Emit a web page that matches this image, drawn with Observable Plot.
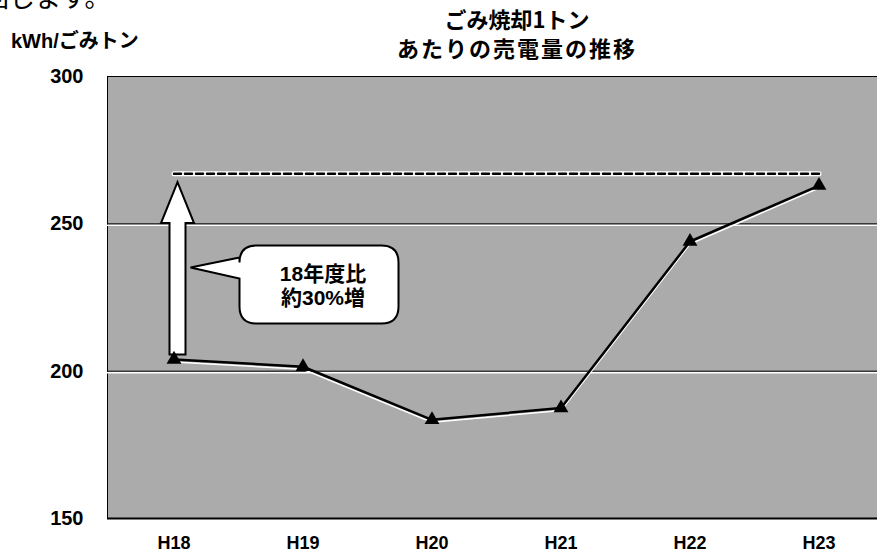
<!DOCTYPE html>
<html><head><meta charset="utf-8">
<script src="https://cdn.jsdelivr.net/npm/d3@7"></script>
<script src="https://cdn.jsdelivr.net/npm/@observablehq/plot@0.6"></script>
<style>
html,body{margin:0;padding:0;background:#fff;overflow:hidden;}
#wrap{position:relative;width:877px;height:554px;}
.t{position:absolute;white-space:nowrap;color:#000;font-family:"Noto Sans CJK JP","Liberation Sans",sans-serif;line-height:1;}
</style></head><body>
<div id="wrap">
<div class="t" style="left:-17px;top:-17px;font-size:26px;">回します。</div>
<div class="t" style="left:11px;top:30px;font-size:20px;font-weight:bold;font-family:'Liberation Sans','Noto Sans CJK JP',sans-serif;">kWh/<span style="font-family:'Noto Sans CJK JP'">ごみトン</span></div>
<div class="t" style="left:0;width:1034px;top:4px;text-align:center;font-size:22px;font-weight:bold;line-height:29px;">ごみ焼却1トン<br><span style="letter-spacing:2px;">あたりの売電量の推移</span></div>
<div id="chart" style="position:absolute;left:0;top:0;"></div>
</div>
<script>
const categories = ["H18", "H19", "H20", "H21", "H22", "H23"];
const values = [204, 201.5, 183.5, 187.5, 244, 263];
const yTicks = [150, 200, 250, 300];
const gridValues = [200, 250];
const targetLevel = 267;
const arrowFrom = 205.5;
const arrowTo = 264;
const calloutLines = ["18年度比", "約30%増"];

const series = categories.map((c, i) => ({cat: c, v: values[i]}));
const target = [{cat: categories[0], v: targetLevel}, {cat: categories[categories.length - 1], v: targetLevel}];

function arrowMark(index, scales) {
  const bw = scales.x.bandwidth ? scales.x.bandwidth() / 2 : 0;
  const cx = scales.x(categories[0]) + bw + 4;
  const yb = scales.y(arrowFrom), yt = scales.y(arrowTo);
  const hw = 8, headW = 16.5, headH = 41;
  const d = `M${cx - hw},${yb} L${cx - hw},${yt + headH} L${cx - headW},${yt + headH} L${cx},${yt} L${cx + headW},${yt + headH} L${cx + hw},${yt + headH} L${cx + hw},${yb} Z`;
  const g = d3.create("svg:g");
  g.append("path").attr("d", d).attr("fill", "#fff").attr("stroke", "#000").attr("stroke-width", 2).attr("stroke-linejoin", "miter");
  return g.node();
}

function calloutMark(index, scales) {
  const bw = scales.x.bandwidth ? scales.x.bandwidth() / 2 : 0;
  const x18 = scales.x(categories[0]) + bw;
  const x19 = scales.x(categories[1]) + bw;
  const x0 = x18 + 66, x1 = x19 + 96;
  const y0 = scales.y(242.5), y1 = scales.y(216);
  const r = 17;
  const tipX = x18 + 17, tipY = scales.y(235);
  const pTop = y0 + 12, pBot = y0 + 33;
  const d = `M${x0 + r},${y0} L${x1 - r},${y0} Q${x1},${y0} ${x1},${y0 + r} L${x1},${y1 - r} Q${x1},${y1} ${x1 - r},${y1} L${x0 + r},${y1} Q${x0},${y1} ${x0},${y1 - r} L${x0},${pBot} L${tipX},${tipY} L${x0},${pTop} L${x0},${y0 + r} Q${x0},${y0} ${x0 + r},${y0} Z`;
  const g = d3.create("svg:g");
  g.append("path").attr("d", d).attr("fill", "#fff").attr("stroke", "#000").attr("stroke-width", 2);
  const cx = (x0 + x1) / 2 + 4;
  const cy = (y0 + y1) / 2 + 1;
  calloutLines.forEach((s, i) => {
    g.append("text").attr("x", cx).attr("y", cy + (i - 0.5) * 24).attr("dy", "0.35em")
      .attr("text-anchor", "middle").attr("font-size", 21).attr("font-weight", "bold")
      .attr("font-family", "'Liberation Sans', 'Noto Sans CJK JP', sans-serif").attr("fill", "#000").text(s);
  });
  return g.node();
}

const chart = Plot.plot({
  width: 877,
  height: 554,
  marginLeft: 107,
  marginRight: -7,
  marginTop: 76,
  marginBottom: 36,
  style: {fontFamily: "'Liberation Sans', Arial, sans-serif", background: "transparent", overflow: "visible"},
  x: {type: "band", domain: categories, padding: 0},
  y: {domain: [150, 300]},
  marks: [
    Plot.frame({fill: "#ababab", stroke: "#000", strokeWidth: 1}),
    Plot.ruleY(gridValues, {stroke: "#fff", strokeWidth: 1.5, dy: 1.5}),
    Plot.ruleY(gridValues, {stroke: "#000", strokeWidth: 1}),
    Plot.ruleY([150], {stroke: "#000", strokeWidth: 2}),
    Plot.line(target, {x: "cat", y: "v", stroke: "#fff", strokeWidth: 5}),
    Plot.line(target, {x: "cat", y: "v", stroke: "#000", strokeWidth: 2.5, strokeDasharray: "7,4"}),
    arrowMark,
    calloutMark,
    Plot.line(series, {x: "cat", y: "v", stroke: "#fff", strokeWidth: 1.5, dy: 2.5}),
    Plot.line(series, {x: "cat", y: "v", stroke: "#000", strokeWidth: 2.5}),
    Plot.dot(series, {x: "cat", y: "v", symbol: "triangle", r: 5.5, fill: "#000", stroke: "none"}),
    Plot.axisY(yTicks, {tickSize: 0, tickPadding: 24, fontSize: 20, fontWeight: "bold", label: null}),
    Plot.axisX({tickSize: 0, tickPadding: 18, fontSize: 18, fontWeight: "bold", label: null})
  ]
});
document.getElementById("chart").appendChild(chart);
</script>
</body></html>
